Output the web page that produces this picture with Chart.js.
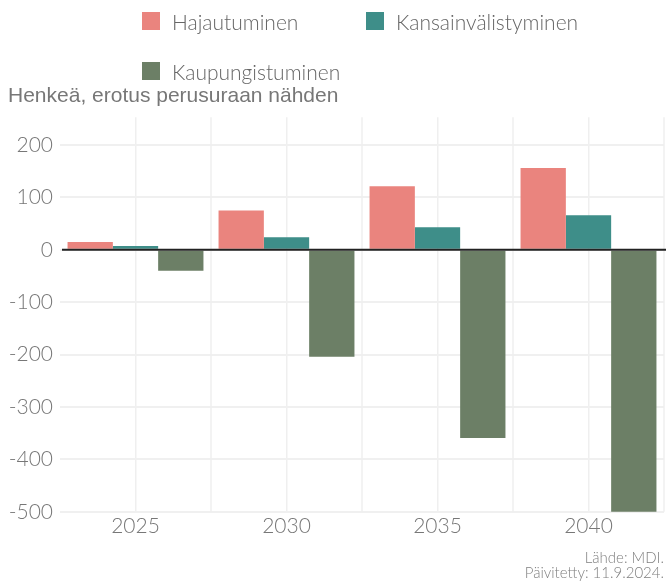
<!DOCTYPE html>
<html>
<head>
<meta charset="utf-8">
<script src="https://cdn.jsdelivr.net/npm/chart.js@4"></script>
<style>
    body { margin: 0; background: #fff; }
    #wrap { position: relative; width: 666px; height: 581px; }
    #legend { position: absolute; left: 142px; top: 0; font-family: Lato, sans-serif; font-weight: 300; font-size: 21px; color: #666; }
    .item { position: absolute; white-space: nowrap; display: flex; align-items: center; height: 20px; }
    .box { width: 18px; height: 18px; margin-right: 12px; }
</style>
</head>
<body>
<div id="wrap">
    <canvas id="chart"></canvas>
    <div id="legend"></div>
</div>
<script>
const years = ["2025", "2030", "2035", "2040"];
const seriesNames = ["Hajautuminen", "Kansainvälistyminen", "Kaupungistuminen"];
const hajautuminen = [15, 75, 121, 156];
const kansainvalistyminen = [7, 24, 43, 66];
const kaupungistuminen = [-40, -204, -359, -510];
const colors = ["#EA847E", "#3E8E89", "#6C7F66"];
const yTicks = [200, 100, 0, -100, -200, -300, -400, -500];

const legendPos = [[0, 11], [224, 11], [0, 61]];

const legend = document.querySelector("#legend");
seriesNames.forEach((name, i) => {
    const item = document.createElement("div");
    item.className = "item";
    item.style.left = legendPos[i][0] + "px";
    item.style.top = legendPos[i][1] + "px";
    item.innerHTML = '<span class="box" style="background:' + colors[i] + '"></span>' + name;
    legend.appendChild(item);
});

// lines between the year groups and the black zero line on top of the bars
const extraLines = {
    id: "extraLines",
    beforeDatasetsDraw(chart) {
        const ctx = chart.ctx;
        const area = chart.chartArea;
        const x = chart.scales.x;
        const step = x.getPixelForValue(1) - x.getPixelForValue(0);
        ctx.save();
        ctx.strokeStyle = "#efefef";
        ctx.lineWidth = 1.5;
        for (let i = 0; i < years.length; i++) {
            const px = x.getPixelForValue(i) + step / 2;
            ctx.beginPath();
            ctx.moveTo(px, area.top);
            ctx.lineTo(px, area.bottom);
            ctx.stroke();
        }
        ctx.restore();
    },
    afterDatasetsDraw(chart) {
        const ctx = chart.ctx;
        const area = chart.chartArea;
        const y0 = chart.scales.y.getPixelForValue(0);
        ctx.save();
        ctx.strokeStyle = "#222";
        ctx.lineWidth = 2;
        ctx.beginPath();
        ctx.moveTo(area.left + 2, y0);
        ctx.lineTo(chart.width, y0);
        ctx.stroke();
        ctx.restore();
    }
};

const ctx = document.querySelector("#chart");

new Chart(ctx, {
    type: "bar",
    data: {
        labels: years,
        datasets: [
            { label: seriesNames[0], data: hajautuminen, backgroundColor: colors[0] },
            { label: seriesNames[1], data: kansainvalistyminen, backgroundColor: colors[1] },
            { label: seriesNames[2], data: kaupungistuminen, backgroundColor: colors[2] }
        ]
    },
    options: {
        responsive: true,
        maintainAspectRatio: false,
        animation: false,
        layout: {
            padding: { top: 84, left: 8, right: 2, bottom: 0 }
        },
        datasets: {
            bar: {
                categoryPercentage: 0.9,
                barPercentage: 1
            }
        },
        scales: {
            x: {
                border: { display: false },
                grid: { color: "#efefef", lineWidth: 1.5, drawTicks: false, offset: false },
                ticks: {
                    color: "#777",
                    padding: 2,
                    font: { family: "Lato", size: 21, weight: 300 }
                }
            },
            y: {
                min: -500,
                max: 253,
                border: { display: false },
                afterBuildTicks: (axis) => {
                    axis.ticks = yTicks.map(v => ({ value: v }));
                },
                afterFit: (axis) => {
                    axis.width = 52;
                },
                grid: { color: "#f0f0f0", lineWidth: 2, drawTicks: false },
                ticks: {
                    color: "#777",
                    padding: 7,
                    font: { family: "Lato", size: 21, weight: 300 }
                }
            }
        },
        plugins: {
            legend: { display: false },
            tooltip: { enabled: false },
            title: {
                display: true,
                text: "Henkeä, erotus perusuraan nähden",
                align: "start",
                color: "#777",
                padding: { top: 0, bottom: 8 },
                font: { family: "Liberation Sans", size: 21, weight: "normal" }
            },
            subtitle: {
                display: true,
                position: "bottom",
                align: "end",
                text: ["Lähde: MDI.", "Päivitetty: 11.9.2024."],
                color: "#808080",
                padding: { top: 10, bottom: 0 },
                font: { family: "Lato", size: 15, weight: 300, lineHeight: 1.0 }
            }
        }
    },
    plugins: [extraLines]
});
</script>
</body>
</html>
